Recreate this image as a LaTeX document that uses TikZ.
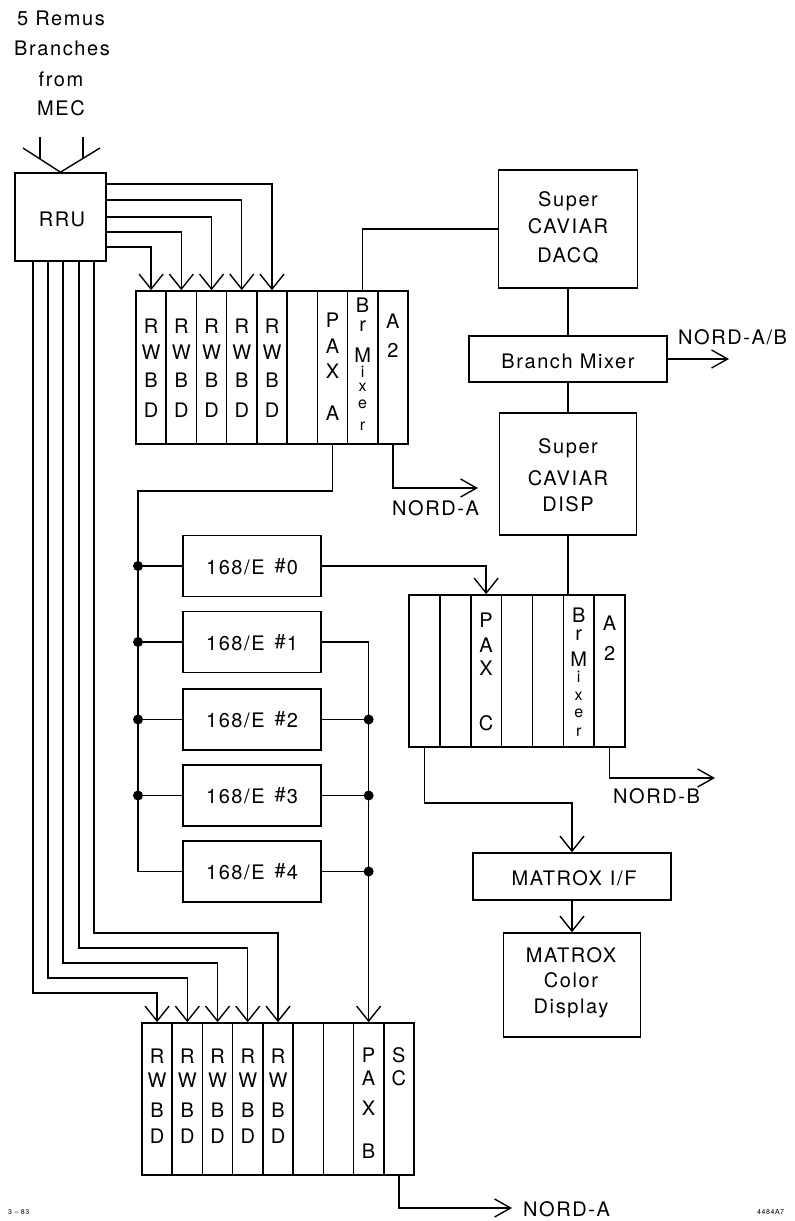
\documentclass[tikz,border=0pt]{standalone}
\usepackage{fontspec}
\setmainfont{TeX Gyre Heros}[LetterSpace=8]
\usetikzlibrary{arrows.meta}
\begin{document}
\begin{tikzpicture}[x=1pt,y=-1pt,
  every node/.style={font=\fontsize{20}{26}\selectfont},
  box/.style={draw, line width=1.6pt, inner sep=0pt},
  col/.style={draw, line width=1.6pt, inner sep=0pt, minimum height=153pt},
  ln/.style={line width=1.4pt},
  arr/.style={line width=1.4pt, -{Straight Barb[length=15pt,width=24pt]}},
  rarr/.style={line width=1.4pt, -{Straight Barb[length=16pt,width=18pt]}},
  lbl/.style={anchor=base, inner sep=0pt},
  lblw/.style={anchor=base west, inner sep=0pt},
  sm/.style={font=\fontsize{16}{18}\selectfont},
  dot/.style={circle, fill, inner sep=0pt, minimum size=10pt}]
\useasboundingbox (0,0) rectangle (795,1221);

% title text
\node[lbl] (t1) at (61,25) {5 Remus};
\node[lbl] (t2) at (62,55) {Branches};
\node[lbl] (t3) at (61,86) {from};
\node[lbl] (t4) at (61,115) {MEC};

% RRU
\node[box, minimum width=91pt, minimum height=88pt] (rru) at (60.5,217) {};
\node[lbl] (rrul) at (62,226) {RRU};
\draw[ln] (23,148) -- (rru.north) -- (100,148);
\draw[ln] (40,137) -- (40,159);
\draw[ln] (83,137) -- (83,158);

% crate A
\foreach \i in {1,...,9}
  \node[col, minimum width=30.22pt] (a\i) at ({136+30.22*(\i-0.5)},367.5) {};
\foreach \i in {1,...,5}
  \foreach \c/\y in {R/333,W/359,B/387,D/417}
    \node[lbl] (la\i-\y) at (a\i |- 0,\y) {\c};
\foreach \c/\y in {P/327,A/353,X/378,A/420}
  \node[lbl] (la7-\y) at (a7 |- 0,\y) {\c};
\foreach \c/\y in {B/312,r/331,M/362}
  \node[lbl] (la8-\y) at (a8 |- 0,\y) {\c};
\foreach \c/\y in {i/377,x/391,e/408,r/430}
  \node[lbl,sm] (la8-\y) at (a8 |- 0,\y) {\c};
\foreach \c/\y in {A/328,2/357}
  \node[lbl] (la9-\y) at (a9 |- 0,\y) {\c};

% RRU to crate A
\draw[arr] (rru.east |- 0,184) -| (a5.north);
\draw[arr] (rru.east |- 0,200) -| (a4.north);
\draw[arr] (rru.east |- 0,217) -| (a3.north);
\draw[arr] (rru.east |- 0,232) -| (a2.north);
\draw[arr] (rru.east |- 0,247) -| (a1.north);

% right column boxes
\node[box, minimum width=139pt, minimum height=118pt] (dacq) at (568,229) {};
\node[lbl] (dq1) at (568,206) {Super};
\node[lbl] (dq2) at (568,233) {CAVIAR};
\node[lbl] (dq3) at (568,262) {DACQ};

\node[box, minimum width=198pt, minimum height=46pt] (bm) at (568,359) {};
\node[lbl] (bml) at (568,368) {Branch Mixer};

\node[box, minimum width=137pt, minimum height=122pt] (disp) at (568,474) {};
\node[lbl] (ds1) at (568,453) {Super};
\node[lbl] (ds2) at (568,485) {CAVIAR};
\node[lbl] (ds3) at (568,511) {DISP};

\draw[ln] (a8.north) |- (dacq.west);
\draw[ln] (dacq.south) -- (bm.north);
\draw[ln] (bm.south) -- (disp.north);
\coordinate (nAB) at (729,359);
\draw[rarr] (bm.east) -- (nAB);
\node[lblw] (nABl) at (678,344) {NORD-A/B};

\coordinate (nA) at (478,488);
\draw[rarr] (a9.south) |- (nA);
\node[lblw] (nAl) at (392,515) {NORD-A};

% 168/E processors
\foreach \i/\y in {0/566,1/642,2/719.5,3/795.5,4/871.5} {
  \node[box, minimum width=138pt, minimum height=61pt] (e\i) at (252,\y) {};
  \node[lbl] (el\i) at (252,\y+8) {168/E\hspace{10pt}\raisebox{2pt}{\#}\kern1pt\i};
}
\coordinate (busL) at (138,491);
\draw[ln] (a7.south) |- (busL) |- (e4.west);
\foreach \i in {0,...,3}
  \draw[ln] (e\i.west) -- (e\i.west -| busL) node[dot] (dl\i) {};

% crate C
\foreach \i in {1,...,7}
  \node[col, minimum width=30.86pt, minimum height=152pt] (c\i) at ({409+30.86*(\i-0.5)},671) {};
\foreach \c/\y in {P/627,A/652,X/675,C/730}
  \node[lbl] (lc3-\y) at (c3 |- 0,\y) {\c};
\foreach \c/\y in {B/622,r/640,M/666}
  \node[lbl] (lc6-\y) at (c6 |- 0,\y) {\c};
\foreach \c/\y in {i/682,x/700,e/717,r/736}
  \node[lbl,sm] (lc6-\y) at (c6 |- 0,\y) {\c};
\foreach \c/\y in {A/630,2/660}
  \node[lbl] (lc7-\y) at (c7 |- 0,\y) {\c};

\draw[ln] (disp.south) -- (disp.south |- c6.north);
\draw[arr] (e0.east) -| (c3.north);
\coordinate (nB) at (715,778);
\draw[rarr] (c7.south) |- (nB);
\node[lblw] (nBl) at (613,803) {NORD-B};

% MATROX
\node[box, minimum width=198pt, minimum height=47pt] (mif) at (572,876.5) {};
\node[lbl] (mifl) at (574,885) {MATROX\hspace{8pt}I/F};
\node[box, minimum width=137pt, minimum height=104pt] (mdisp) at (572,985) {};
\node[lbl] (md1) at (571,962) {MATROX};
\node[lbl] (md2) at (571,987) {Color};
\node[lbl] (md3) at (571,1013) {Display};
\draw[arr] (c1.south) |- (mif.north |- 0,803) -- (mif.north);
\draw[arr] (mif.south) -- (mdisp.north);

% crate B
\foreach \i in {1,...,9}
  \node[col, minimum width=30.22pt, minimum height=152pt] (b\i) at ({142+30.22*(\i-0.5)},1099) {};
\foreach \i in {1,...,5}
  \foreach \c/\y in {R/1063,W/1087,B/1117,D/1143}
    \node[lbl] (lb\i-\y) at (b\i |- 0,\y) {\c};
\foreach \c/\y in {P/1062,A/1085,X/1115,B/1158}
  \node[lbl] (lb8-\y) at (b8 |- 0,\y) {\c};
\foreach \c/\y in {S/1062,C/1085}
  \node[lbl] (lb9-\y) at (b9 |- 0,\y) {\c};

% right bus to PAX B
\draw[arr] (e1.east) -| (b8.north);
\foreach \i in {2,3,4}
  \draw[ln] (e\i.east) -- (e\i.east -| b8.north) node[dot] (dr\i) {};

% RRU to crate B
\draw[arr] (rru.south -| 33,0) |- (b1.north |- 0,993) -- (b1.north);
\draw[arr] (rru.south -| 48,0) |- (b2.north |- 0,978) -- (b2.north);
\draw[arr] (rru.south -| 63,0) |- (b3.north |- 0,963) -- (b3.north);
\draw[arr] (rru.south -| 79,0) |- (b4.north |- 0,948) -- (b4.north);
\draw[arr] (rru.south -| 94,0) |- (b5.north |- 0,933) -- (b5.north);

% SC output
\coordinate (nC) at (512,1208);
\draw[rarr] (b9.south) |- (nC);
\node[lblw] (nCl) at (523,1216) {NORD-A};

% footer
\node[lblw, font=\fontsize{7}{7}\selectfont] (f1) at (8,1214) {3 – 83};
\node[lblw, font=\fontsize{7}{7}\selectfont] (f2) at (757,1214) {4484A7};
\end{tikzpicture}
\end{document}
